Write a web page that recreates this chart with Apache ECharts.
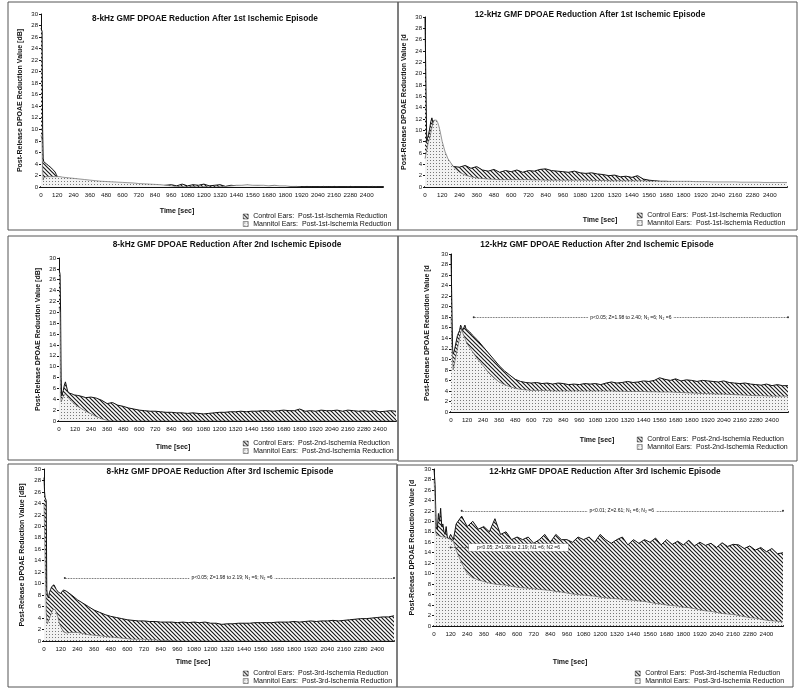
<!DOCTYPE html>
<html>
<head>
<meta charset="utf-8">
<title>GMF DPOAE Reduction</title>
<script src="https://cdn.jsdelivr.net/npm/echarts@6/dist/echarts.min.js"></script>
<style>
html, body { margin: 0; padding: 0; background: #fff; }
#chart { width: 800px; height: 694px; }
</style>
</head>
<body>
<div id="chart"></div>
<script>
// time points [sec]
var times = [0,4,8,12,16,20,24,32,40,48,56,64,72,80,88,96,104,112,120,140,160,
  200,240,280,320,360,400,440,480,520,560,600,640,680,720,760,800,840,880,920,960,
  1000,1040,1080,1120,1160,1200,1240,1280,1320,1360,1400,1440,1480,1520,1560,1600,
  1640,1680,1720,1760,1800,1840,1880,1920,1960,2000,2040,2080,2120,2160,2200,2240,
  2280,2320,2360,2400,2440,2480,2520];

// tick labels
var xTicks = [0,120,240,360,480,600,720,840,960,1080,1200,1320,1440,1560,1680,1800,1920,2040,2160,2280,2400];
var yTicks = [0,2,4,6,8,10,12,14,16,18,20,22,24,26,28,30];

// 8 kHz, 1st episode
var control8k1 = [27.5,27.5,27,10,5,4.4,4.3,4.2,4.0,3.9,
  3.7,3.5,3.4,3.2,3.0,2.8,2.6,2.2,1.8,1.2,
  1.0,0.8,0.7,0.6,0.5,0.5,0.4,0.4,0.4,0.3,
  0.3,0.3,0.2,0.3,0.2,0.2,0.3,0.2,0.2,0.3,
  0.4,0.2,0.5,0.2,0.4,0.3,0.5,0.2,0.3,0.4,
  0.1,0.3,0.2,0.1,0.2,0.1,0.2,0.0,0.1,0.2,
  0.0,0.1,0.0,0.1,0.0,0.1,0.0,0.0,0.1,0.0,
  0.1,0.0,0.0,0.1,0.0,0.0,0.0,0.1,0.0,0.0];
var mannitol8k1 = [9,9,8,3,1.2,1.6,1.8,1.8,1.8,1.8,
  1.8,1.8,1.8,1.8,1.8,1.8,1.8,1.8,1.8,1.8,
  1.7,1.6,1.5,1.4,1.3,1.2,1.1,1.0,0.95,0.9,
  0.85,0.8,0.75,0.7,0.6,0.55,0.5,0.45,0.4,0.3,
  0.2,0.1,0.1,0.0,0.1,0.0,0.1,0.0,0.0,0.1,
  0.1,0.2,0.3,0.3,0.4,0.3,0.3,0.3,0.2,0.3,
  0.2,0.2,0.1,0.1,0.0,0.0,0.0,0.0,0.0,0.0,
  0.0,0.0,0.0,0.0,0.0,0.0,0.0,0.0,0.0,0.0];

// 12 kHz, 1st episode
var control12k1 = [30,30,30,8,8.5,8.8,9.2,10.2,11.5,12.2,
  11.2,11.8,11.6,11.2,10.4,9.5,8.5,7.5,6.5,5.2,
  4.5,3.6,3.5,3.8,3.3,3.6,3.0,2.8,3.1,2.6,
  2.9,2.7,3.0,2.6,2.9,2.8,3.1,3.2,2.9,2.8,
  2.7,2.6,2.8,2.5,2.4,2.5,2.3,2.2,2.0,2.1,
  1.8,1.9,1.7,2.0,1.4,1.2,1.1,1.0,1.0,0.9,
  0.8,0.8,0.7,0.7,0.6,0.6,0.6,0.5,0.5,0.5,
  0.5,0.4,0.4,0.4,0.3,0.3,0.3,0.3,0.2,0.2];
var mannitol12k1 = [5,5.5,6,6.5,7,7.5,8,8.5,9.5,10.5,
  11.3,11.8,12,11.8,11.4,10.8,10,9,8,6.2,
  5,3.5,2.6,2.1,1.8,1.6,1.5,1.4,1.35,1.3,
  1.3,1.3,1.3,1.3,1.3,1.25,1.25,1.2,1.2,1.2,
  1.2,1.2,1.2,1.2,1.2,1.15,1.15,1.15,1.1,1.1,
  1.1,1.1,1.1,1.1,1.1,1.05,1.05,1.0,1.0,1.0,
  1.0,1.0,1.0,0.95,0.95,0.95,0.9,0.9,0.9,0.9,
  0.9,0.85,0.85,0.85,0.85,0.8,0.8,0.8,0.8,0.8];

// 8 kHz, 2nd episode
var control8k2 = [28,28,27,20,8,4.6,4.8,5.6,6.6,7.2,
  6.4,5.5,5.2,5.1,5.0,5.0,4.9,4.8,4.8,4.7,
  4.6,4.3,4.4,4.2,3.8,3.2,3.4,2.9,2.7,2.4,
  2.2,2.0,1.9,1.8,1.8,1.7,1.6,1.6,1.5,1.5,
  1.4,1.5,1.4,1.3,1.4,1.5,1.6,1.6,1.7,1.7,
  1.8,1.7,1.8,1.8,1.9,1.9,1.8,1.9,2.0,1.9,
  1.9,2.2,1.8,1.9,1.8,2.0,1.9,1.9,2.0,1.8,
  2.0,1.9,1.8,1.9,1.8,1.9,1.7,1.8,1.9,1.8];
var mannitol8k2 = [21,21,20,5,3.5,3.8,4.0,4.5,4.8,5.0,
  4.8,4.5,4.2,4.0,3.8,3.6,3.4,3.2,3.0,2.7,
  2.4,1.8,1.3,0.8,0.4,0.1,0.0,0.0,0.0,0.0,
  0,0,0,0,0,0,0,0,0,0,
  0,0,0,0,0,0,0,0,0,0,
  0,0,0,0,0,0,0,0,0,0,
  0,0,0,0,0,0,0,0,0,0,
  0,0,0,0,0,0,0,0,0,0];

// 12 kHz, 2nd episode
var control12k2 = [30,30,30,12,11,11.2,11.5,12.5,13.5,14.5,
  15,15.5,16.5,16,15.5,16,16.5,15.8,15.5,15.2,
  14.6,13.6,12.4,11.2,10.0,8.8,7.8,7.0,6.2,5.8,
  5.6,5.5,5.6,5.4,5.5,5.3,5.5,5.4,5.2,5.3,
  5.2,5.4,5.3,5.4,5.2,5.5,5.7,5.5,5.6,5.8,
  5.6,5.7,5.9,5.8,6.0,6.5,6.2,6.0,6.3,5.9,
  6.1,6.0,5.8,6.0,5.9,5.8,5.7,5.9,5.6,5.5,
  5.4,5.5,5.3,5.2,5.1,5.3,5.0,5.2,5.0,5.0];
var mannitol12k2 = [18,18,12,10,8,8.5,9,10,11,12,
  13,14,15,15.8,15,14.5,14,13.5,13,12.2,
  11.5,10,8.8,7.5,6.5,5.7,5.2,4.8,4.5,4.3,
  4.2,4.1,4.1,4.1,4.1,4.0,4.0,4.0,4.0,4.0,
  4.0,4.0,4.0,4.0,4.0,4.0,4.0,3.95,3.95,3.9,
  3.9,3.9,3.9,3.85,3.85,3.8,3.8,3.8,3.75,3.7,
  3.65,3.6,3.55,3.5,3.5,3.45,3.4,3.4,3.35,3.3,
  3.25,3.2,3.15,3.1,3.1,3.05,3.0,3.0,3.0,3.0];

// 8 kHz, 3rd episode
var control8k3 = [28.5,26,25,25,24.5,9,8,7.5,8.5,9,
  9.5,9.5,9.8,9.5,9.0,8.8,8.5,8.5,8.3,8.9,
  8.7,8.0,7.2,6.6,6.0,5.4,5.0,4.6,4.3,4.1,
  3.9,3.7,3.6,3.5,3.5,3.4,3.4,3.3,3.3,3.3,
  3.2,3.3,3.2,3.3,3.2,3.3,3.1,3.1,2.9,3.0,
  3.0,3.1,3.1,3.1,3.2,3.2,3.2,3.2,3.3,3.3,
  3.3,3.4,3.3,3.4,3.5,3.4,3.5,3.5,3.6,3.5,
  3.6,3.7,3.8,3.9,3.9,4.0,4.1,4.2,4.2,4.4];
var mannitol8k3 = [24,24,24,10,5,3.5,3,3.5,4,4.5,
  5,5.5,5.6,5.5,5,4.5,3.8,3,2.5,1.6,
  1.4,1.5,1.5,1.3,1.1,1.0,0.9,0.8,0.7,0.6,
  0.5,0.4,0.3,0.3,0.3,0.2,0.2,0.1,0.1,0.1,
  0,0,0,0,0,0,0,0,0,0,
  0,0,0,0,0,0,0,0,0,0,
  0,0,0,0,0,0,0,0,0,0,
  0,0,0,0,0,0,0,0,0,0];

// 12 kHz, 3rd episode
var control12k3 = [30,30,27,27,19,19,18.5,21.5,20,22.5,
  19,19.5,18,17.5,19,17,16.5,16.5,17.5,16.5,
  19.5,21,19,20,18.5,19,18,20.5,17.5,18,
  16.5,17,16.5,17,15.8,16.5,17.5,16,17.5,16.5,
  16.5,16,17,16.5,17,16,17.5,16.5,15.8,16.5,
  17,15.5,16.5,15.8,16.5,16,16.8,15.5,16.5,15.6,
  16.2,15.5,16.4,15.3,16,15.4,15.8,15,15.9,15.2,
  15.6,15.5,14.8,15.3,14.5,15,14.2,14.8,13.8,14];
var mannitol12k3 = [28,28,24,18,17.5,17.5,17.5,17.3,17.2,17.1,
  17,17,17,17,16.9,16.8,16.7,16.6,16.5,16.2,
  14.5,12,10,9.2,8.8,8.5,8.2,8.0,7.9,7.8,
  7.6,7.4,7.3,7.2,7.1,7.0,6.9,6.8,6.6,6.5,
  6.3,6.1,6.0,5.9,5.8,5.7,5.5,5.4,5.3,5.2,
  5.1,5.0,4.9,4.8,4.7,4.5,4.3,4.2,4.0,3.9,
  3.8,3.6,3.5,3.3,3.1,2.9,2.8,2.6,2.4,2.3,
  2.2,2.0,1.8,1.6,1.5,1.3,1.1,1.0,0.9,0.8];

// fill patterns
function makeHatch() {
  var c = document.createElement("canvas");
  c.width = 4; c.height = 4;
  var g = c.getContext("2d");
  g.fillStyle = "#ffffff";
  g.fillRect(0, 0, 4, 4);
  g.strokeStyle = "#1a1a1a";
  g.lineWidth = 1.2;
  g.beginPath();
  g.moveTo(-1, -1); g.lineTo(5, 5);
  g.moveTo(-1, 3); g.lineTo(1, 5);
  g.moveTo(3, -1); g.lineTo(5, 1);
  g.stroke();
  return { image: c, repeat: "repeat" };
}
function makeDots() {
  var c = document.createElement("canvas");
  c.width = 3; c.height = 3;
  var g = c.getContext("2d");
  g.fillStyle = "#f2f2f2";
  g.fillRect(0, 0, 3, 3);
  g.fillStyle = "#777";
  g.fillRect(1, 1, 1, 1);
  return { image: c, repeat: "repeat" };
}
var hatch = makeHatch();
var dots = makeDots();

var yNameL = "Post-Release DPOAE Reduction Value [dB]";
var yNameR = "Post-Release DPOAE Reduction Value [d";

var panels = [
  { title: "8-kHz GMF DPOAE Reduction After 1st Ischemic Episode", ep: "1st",
    control: control8k1, mannitol: mannitol8k1, yName: yNameL,
    grid: { left: 41, top: 14, width: 342, height: 173 }, nameGap: 17,
    box: [8, 2, 390, 228], titlePos: [205, 19], timePos: [177, 211], legendPos: [243, 213], notes: [] },
  { title: "12-kHz GMF DPOAE Reduction After 1st Ischemic Episode", ep: "1st",
    control: control12k1, mannitol: mannitol12k1, yName: yNameR,
    grid: { left: 425, top: 17, width: 362, height: 170 }, nameGap: 17,
    box: [398, 2, 399, 228], titlePos: [590, 15], timePos: [600, 220], legendPos: [637, 212], notes: [] },
  { title: "8-kHz GMF DPOAE Reduction After 2nd Ischemic Episode", ep: "2nd",
    control: control8k2, mannitol: mannitol8k2, yName: yNameL,
    grid: { left: 59, top: 258, width: 337, height: 163 }, nameGap: 17,
    box: [8, 236, 390, 224], titlePos: [227, 245], timePos: [173, 447], legendPos: [243, 440], notes: [] },
  { title: "12-kHz GMF DPOAE Reduction After 2nd Ischemic Episode", ep: "2nd",
    control: control12k2, mannitol: mannitol12k2, yName: yNameR,
    grid: { left: 451, top: 254, width: 337, height: 158 }, nameGap: 20,
    box: [398, 236, 399, 225], titlePos: [597, 245], timePos: [597, 440], legendPos: [637, 436],
    notes: [{ y: 18, from: 170, to: 2520, at: 1345, text: "p<0.05; Z=1.98 to 2.40; N\u2081 =6; N\u2082 =6" }] },
  { title: "8-kHz GMF DPOAE Reduction After 3rd Ischemic Episode", ep: "3rd",
    control: control8k3, mannitol: mannitol8k3, yName: yNameL,
    grid: { left: 44, top: 469, width: 350, height: 172 }, nameGap: 18,
    box: [8, 464, 389, 223], titlePos: [220, 472], timePos: [193, 662], legendPos: [243, 670],
    notes: [{ y: 11, from: 150, to: 2520, at: 1354, text: "p<0.05; Z=1.98 to 2.19; N\u2081 =6; N\u2082 =6" }] },
  { title: "12-kHz GMF DPOAE Reduction After 3rd Ischemic Episode", ep: "3rd",
    control: control12k3, mannitol: mannitol12k3, yName: yNameR,
    grid: { left: 434, top: 469, width: 349, height: 157 }, nameGap: 18,
    box: [397, 465, 396, 222], titlePos: [605, 472], timePos: [570, 662], legendPos: [635, 670],
    notes: [{ y: 22, from: 200, to: 2520, at: 1355, text: "p<0.01; Z=2.61; N\u2081 =6; N\u2082 =6" },
            { y: 15, from: 120, to: 250, at: 610, text: "p<0.05; Z=1.98 to 2.19; N1 =6; N2 =6", box: true }] }
];

function pairs(xs, ys) {
  return xs.map(function (x, i) { return [x, ys[i]]; });
}

var option = {
  backgroundColor: "#ffffff",
  animation: false,
  textStyle: { fontFamily: "Liberation Sans, Arial, sans-serif" },
  grid: [], xAxis: [], yAxis: [], series: [], legend: [], graphic: []
};

panels.forEach(function (p, i) {
  var cName = "Control Ears:  Post-" + p.ep + "-Ischemia Reduction";
  var mName = "Mannitol Ears:  Post-" + p.ep + "-Ischemia Reduction";

  option.grid.push(p.grid);
  //横坐标
  option.xAxis.push({
    type: "value", gridIndex: i, min: 0, max: 2520, interval: 120,
    axisLine: { lineStyle: { color: "#111", width: 2 } },
    axisTick: { show: false },
    splitLine: { show: false },
    axisLabel: {
      fontSize: 6.2, color: "#111", margin: 5, hideOverlap: false,
      formatter: function (v) { return xTicks.indexOf(v) >= 0 ? String(v) : ""; }
    }
  });
  //纵坐标
  option.yAxis.push({
    type: "value", gridIndex: i, min: yTicks[0], max: yTicks[yTicks.length - 1], interval: 2,
    name: p.yName, nameLocation: "middle", nameGap: p.nameGap,
    nameTextStyle: { fontSize: 7, fontWeight: "bold", color: "#111" },
    axisLine: { show: true, lineStyle: { color: "#111", width: 1 } },
    axisTick: { show: true, length: 2, lineStyle: { color: "#111" } },
    splitLine: { show: false },
    axisLabel: { fontSize: 6, color: "#111", margin: 3 }
  });

  var marks = p.notes.map(function (n) {
    return [{ coord: [n.from, n.y] }, { coord: [n.to, n.y] }];
  });
  var texts = p.notes.map(function (n) {
    return {
      coord: [n.at, n.y],
      label: {
        formatter: n.text,
        padding: n.box ? [1, 8, 1, 8] : [0, 2, 0, 2],
        borderColor: n.box ? "#999" : "transparent",
        borderWidth: n.box ? 0.5 : 0
      }
    };
  });

  option.series.push({
    type: "line", name: cName, xAxisIndex: i, yAxisIndex: i,
    data: pairs(times, p.control),
    symbol: "none", z: 2,
    lineStyle: { color: "#111", width: 1 },
    itemStyle: { color: "#111" },
    areaStyle: { color: hatch, opacity: 1 },
    markLine: marks.length ? {
      silent: true, symbol: ["circle", "circle"], symbolSize: 2,
      label: { show: false },
      lineStyle: { type: "dotted", color: "#333", width: 0.8 },
      data: marks
    } : undefined,
    markPoint: texts.length ? {
      silent: true, symbol: "rect", symbolSize: 0.1,
      label: { show: true, position: "inside", fontSize: 5, color: "#111", backgroundColor: "#fff" },
      data: texts
    } : undefined
  });
  option.series.push({
    type: "line", name: mName, xAxisIndex: i, yAxisIndex: i,
    data: pairs(times, p.mannitol),
    symbol: "none", z: 3,
    lineStyle: { color: "#555", width: 0.6 },
    itemStyle: { color: "#555" },
    areaStyle: { color: dots, opacity: 1 }
  });

  option.legend.push({
    left: p.legendPos[0], top: p.legendPos[1], orient: "vertical",
    padding: 0, height: 30,
    icon: "rect", itemWidth: 5, itemHeight: 5, itemGap: 0.5,
    selectedMode: false,
    textStyle: { fontSize: 7, color: "#111" },
    data: [
      { name: cName, itemStyle: { color: hatch, borderColor: "#333", borderWidth: 0.5 } },
      { name: mName, itemStyle: { color: dots, borderColor: "#333", borderWidth: 0.5 } }
    ]
  });

  // panel frame + texts
  option.graphic.push({
    type: "rect", silent: true, z: 0,
    shape: { x: p.box[0], y: p.box[1], width: p.box[2], height: p.box[3] },
    style: { fill: "none", stroke: "#555", lineWidth: 1 }
  });
  option.graphic.push({
    type: "text", silent: true, x: p.titlePos[0], y: p.titlePos[1],
    style: { text: p.title, fill: "#111", font: "bold 8.3px Liberation Sans, Arial, sans-serif",
      textAlign: "center", textVerticalAlign: "middle" }
  });
  option.graphic.push({
    type: "text", silent: true, x: p.timePos[0], y: p.timePos[1],
    style: { text: "Time [sec]", fill: "#111", font: "bold 7px Liberation Sans, Arial, sans-serif",
      textAlign: "center", textVerticalAlign: "middle" }
  });
});

var chart = echarts.init(document.getElementById("chart"));
chart.setOption(option);
</script>
</body>
</html>
